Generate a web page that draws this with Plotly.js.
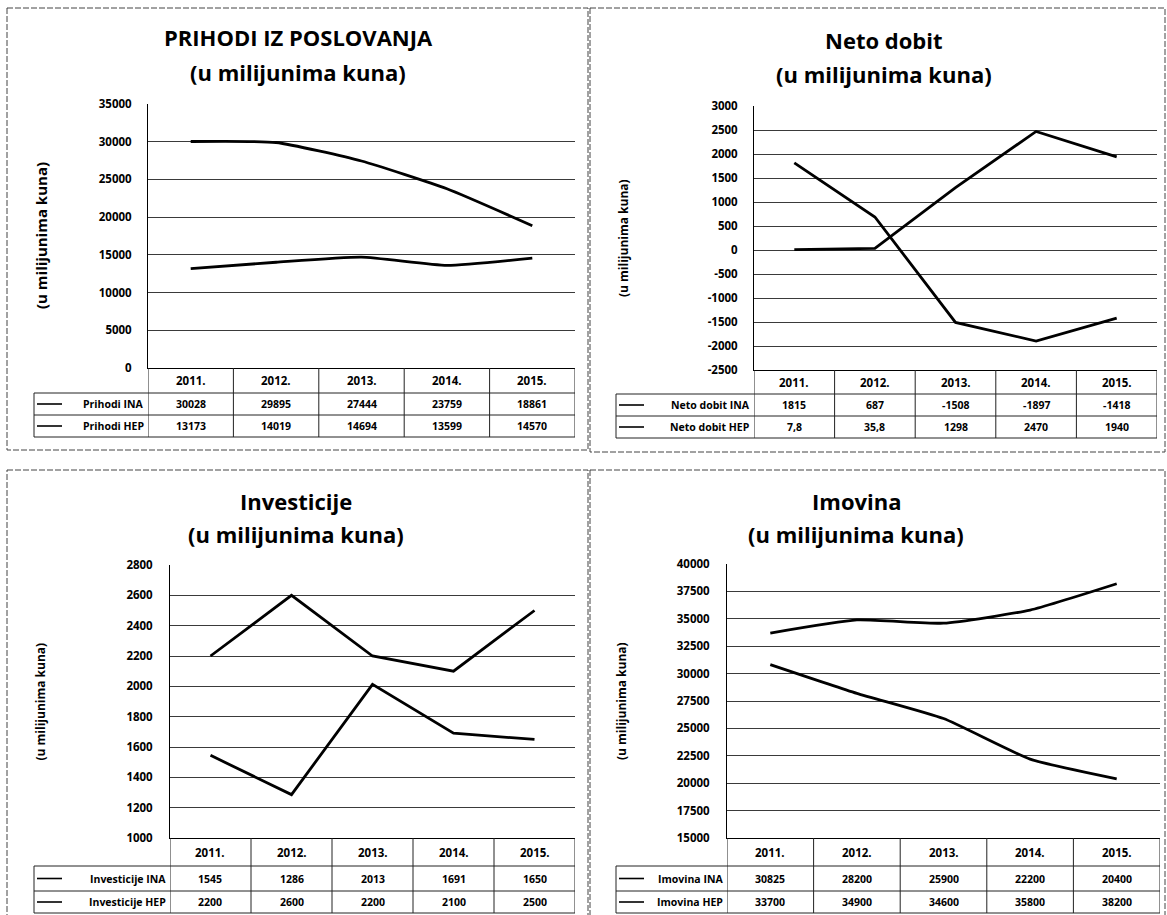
<!DOCTYPE html>
<html><head><meta charset="utf-8">
<script src="https://cdn.plot.ly/plotly-3.0.1.min.js"></script>
<style>html,body{margin:0;padding:0;background:#fff}#chart{width:1167px;height:915px}</style>
</head><body><div id="chart"></div>
<script>
// ---------- DATA ----------
const years = ['2011.', '2012.', '2013.', '2014.', '2015.'];

const prihodiINA = [30028, 29895, 27444, 23759, 18861];
const prihodiHEP = [13173, 14019, 14694, 13599, 14570];

const netoDobitINA = [1815, 687, -1508, -1897, -1418];
const netoDobitHEP = [7.8, 35.8, 1298, 2470, 1940];

const investicijeINA = [1545, 1286, 2013, 1691, 1650];
const investicijeHEP = [2200, 2600, 2200, 2100, 2500];

const imovinaINA = [30825, 28200, 25900, 22200, 20400];
const imovinaHEP = [33700, 34900, 34600, 35800, 38200];

const prihodiTicks = [0, 5000, 10000, 15000, 20000, 25000, 30000, 35000];
const netoDobitTicks = [-2500, -2000, -1500, -1000, -500, 0, 500, 1000, 1500, 2000, 2500, 3000];
const investicijeTicks = [1000, 1200, 1400, 1600, 1800, 2000, 2200, 2400, 2600, 2800];
const imovinaTicks = [15000, 17500, 20000, 22500, 25000, 27500, 30000, 32500, 35000, 37500, 40000];

const chartTitles = ['PRIHODI IZ POSLOVANJA', 'Neto dobit', 'Investicije', 'Imovina'];
const subTitle = '(u milijunima kuna)';
const yAxisTitle = '(u milijunima kuna)';
const seriesLabelsINA = ['Prihodi INA', 'Neto dobit INA', 'Investicije INA', 'Imovina INA'];
const seriesLabelsHEP = ['Prihodi HEP', 'Neto dobit HEP', 'Investicije HEP', 'Imovina HEP'];

const seriesINA = [prihodiINA, netoDobitINA, investicijeINA, imovinaINA];
const seriesHEP = [prihodiHEP, netoDobitHEP, investicijeHEP, imovinaHEP];
const tickSets = [prihodiTicks, netoDobitTicks, investicijeTicks, imovinaTicks];

// ---------- LAYOUT (pixel geometry) ----------
const W = 1167, H = 915;
const px = v => v / W, py = v => 1 - v / H;
const geom = [
  {l:148, r:575, t:104, b:368, tableLeft:34,  rows:[368,393,415,437], titleX:298, titleY:[37,72],  axX:41,  axSize:15, standoff:13, frame:[7,8,588,450],   shape:'spline'},
  {l:754, r:1157,t:106, b:370, tableLeft:616, rows:[370,394,416,438], titleX:884, titleY:[40,74],  axX:623, axSize:12, standoff:13, frame:[590,8,1165,452], shape:'linear'},
  {l:170, r:575, t:565, b:838, tableLeft:34,  rows:[838,866,891,913], titleX:296, titleY:[501,534],axX:40,  axSize:12, standoff:14, frame:[7,470,588,930], shape:'linear'},
  {l:727, r:1160,t:564, b:838, tableLeft:616, rows:[838,866,891,913], titleX:856, titleY:[501,534],axX:621, axSize:12, standoff:14, frame:[590,470,1165,930], shape:'spline'}
];

const FONT = '"Open Sans", Lato, sans-serif';
const fmt = v => String(v).replace('.', ',');

const data = [];
const layout = {
  width: W, height: H, margin: {l:0, r:0, t:0, b:0},
  paper_bgcolor: '#fff', plot_bgcolor: '#fff', showlegend: false,
  font: {family: FONT, color: '#000'},
  annotations: [], shapes: []
};

const ann = o => Object.assign({showarrow:false, xanchor:'center', yanchor:'middle'}, o);

geom.forEach((g, i) => {
  const n = i === 0 ? '' : String(i + 1);
  const xa = 'x' + n, ya = 'y' + n;
  const ticks = tickSets[i];

  [seriesINA[i], seriesHEP[i]].forEach(vals => {
    data.push({
      type: 'scatter', mode: 'lines', x: years, y: vals, xaxis: xa, yaxis: ya,
      line: {color: '#000', width: 2.8, shape: g.shape, smoothing: 0.5},
      hoverinfo: 'skip'
    });
  });

  layout['xaxis' + n] = {
    domain: [px(g.l), px(g.r)], anchor: ya, type: 'category', range: [-0.5, 4.5],
    showgrid: false, zeroline: false, showline: true, linecolor: '#000', linewidth: 1,
    showticklabels: false, ticks: '', fixedrange: true
  };
  layout['yaxis' + n] = {
    domain: [py(g.b), py(g.t)], anchor: xa, range: [ticks[0], ticks[ticks.length - 1]],
    tickmode: 'array', tickvals: ticks, ticktext: ticks.map(String),
    showgrid: true, gridcolor: '#3a3a3a', gridwidth: 1, zeroline: false,
    showline: true, linecolor: '#000', linewidth: 1, ticks: '',
    tickfont: {family: FONT, size: 11.5, color: '#000', weight: 'bold'},
    ticklabelstandoff: g.standoff, fixedrange: true
  };

  const titleFont = {family:FONT, size:22, weight:'bold', color:'#000'};
  layout.annotations.push(
    ann({xref:'paper', yref:'paper', x:px(g.titleX), y:py(g.titleY[0]), text:chartTitles[i], font:titleFont}),
    ann({xref:'paper', yref:'paper', x:px(g.titleX), y:py(g.titleY[1]), text:subTitle, font:titleFont}),
    ann({xref:'paper', yref:'paper', x:px(g.axX), y:py((g.t + g.b) / 2), text:yAxisTitle, textangle:-90,
         font:{family:FONT, size:g.axSize, weight:'bold', color:'#000'}})
  );

  const f = g.frame;
  layout.shapes.push({type:'rect', xref:'paper', yref:'paper', x0:px(f[0]), x1:px(f[2]), y0:py(f[1]), y1:py(f[3]),
    line:{color:'#444', width:1, dash:'6px,2px'}});

  const [r0, r1, r2, r3] = g.rows;
  const cellFont = {family:FONT, size:10.5, weight:'bold', color:'#000'};
  const headFont = {family:FONT, size:11.5, weight:'bold', color:'#000'};
  years.forEach((yr, k) => {
    layout.annotations.push(ann({xref:xa, yref:'paper', x:k, y:py((r0 + r1) / 2), text:yr, font:headFont}));
    layout.annotations.push(ann({xref:xa, yref:'paper', x:k, y:py((r1 + r2) / 2), text:fmt(seriesINA[i][k]), font:cellFont}));
    layout.annotations.push(ann({xref:xa, yref:'paper', x:k, y:py((r2 + r3) / 2), text:fmt(seriesHEP[i][k]), font:cellFont}));
  });
  [[seriesLabelsINA[i], (r1 + r2) / 2], [seriesLabelsHEP[i], (r2 + r3) / 2]].forEach(([lab, yc]) => {
    layout.annotations.push(ann({xref:'paper', yref:'paper', x:px(g.l - 2), y:py(yc), text:lab,
      xanchor:'right', font:cellFont}));
    layout.shapes.push({type:'line', xref:'paper', yref:'paper', x0:px(g.tableLeft + 3), x1:px(g.tableLeft + 28),
      y0:py(yc), y1:py(yc), line:{color:'#000', width:1.6}});
  });
  const border = {color:'#222', width:1};
  [r1, r2, r3].forEach(yy => layout.shapes.push({type:'line', xref:'paper', yref:'paper',
    x0:px(g.tableLeft), x1:px(g.r), y0:py(yy), y1:py(yy), line:border}));
  layout.shapes.push({type:'line', xref:'paper', yref:'paper', x0:px(g.tableLeft), x1:px(g.tableLeft),
    y0:py(r1), y1:py(r3), line:border});
  [-0.5, 0.5, 1.5, 2.5, 3.5, 4.5].forEach(xx => layout.shapes.push({type:'line', xref:xa, yref:'paper',
    x0:xx, x1:xx, y0:py(r0), y1:py(r3), line:border}));
});

Plotly.newPlot('chart', data, layout, {staticPlot: true, displayModeBar: false});
</script></body></html>
